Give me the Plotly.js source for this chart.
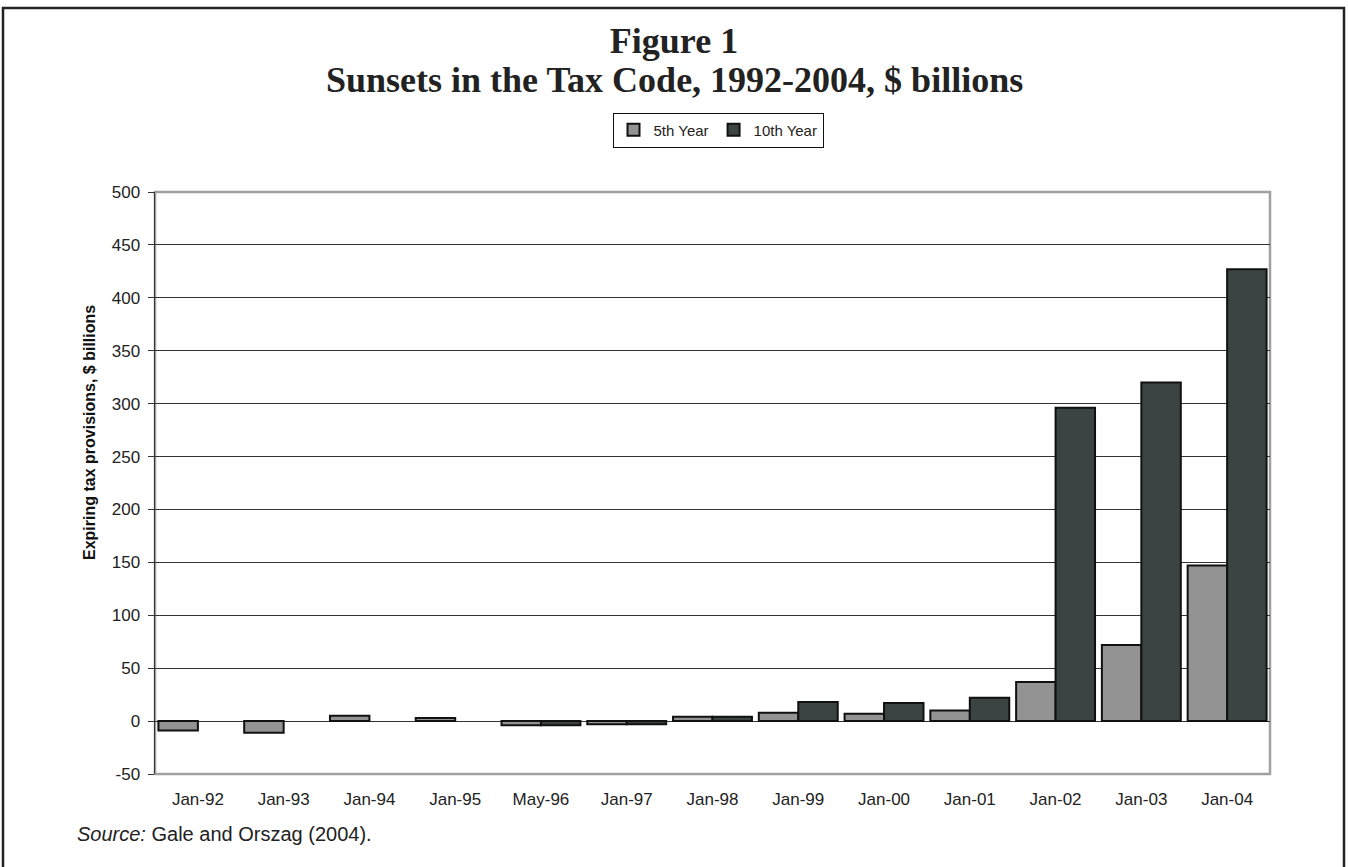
<!DOCTYPE html>
<html>
<head>
<meta charset="utf-8">
<script src="https://cdn.plot.ly/plotly-3.0.1.min.js"></script>
<style>
html,body{margin:0;padding:0;background:#fff;}
#chart{width:1348px;height:867px;}
</style>
</head>
<body>
<div id="chart"></div>
<script>
const categories = ['Jan-92','Jan-93','Jan-94','Jan-95','May-96','Jan-97','Jan-98','Jan-99','Jan-00','Jan-01','Jan-02','Jan-03','Jan-04'];
const fifthYear = [-9, -11, 5, 3, -4, -3, 4, 8, 7, 10, 37, 72, 147];
const tenthYear = [null, null, null, null, -4, -3, 4, 18, 17, 22, 296, 320, 427];
const yTicks = [-50, 0, 50, 100, 150, 200, 250, 300, 350, 400, 450, 500];
const boundaryTicks = [];
for (let i = 0; i <= categories.length; i++) boundaryTicks.push(i - 0.5);

const traces = [
  {type:'bar', name:'5th Year', x:categories, y:fifthYear,
   marker:{color:'#939393', line:{color:'#111', width:2}}},
  {type:'bar', name:'10th Year', x:categories, y:tenthYear,
   marker:{color:'#3b4442', line:{color:'#111', width:2}}}
];

const L = 155, R = 1270, T = 192, B = 774;
const px2x = p => (p - L) / (R - L);
const px2y = p => (B - p) / (B - T);

const layout = {
  width:1348, height:867,
  margin:{l:L, r:1348 - R, t:T, b:867 - B},
  paper_bgcolor:'#fff', plot_bgcolor:'#fff',
  barmode:'group', bargap:0.08, bargroupgap:0,
  font:{family:'Liberation Sans, Arial, sans-serif', size:17, color:'#222'},
  title:{text:'Figure 1',
    font:{family:'Liberation Serif, Times New Roman, serif', size:36, color:'#222', weight:'bold'},
    x:0.5, xref:'container', y:1 - 40/867, yref:'container', yanchor:'middle'},
  showlegend:true,
  legend:{orientation:'h', x:px2x(718), xanchor:'center', y:px2y(130), yanchor:'middle',
    bordercolor:'#111', borderwidth:1, bgcolor:'#fff',
    font:{family:'Liberation Sans, Arial, sans-serif', size:15, color:'#222'},
    itemwidth:30, traceorder:'normal'},
  xaxis:{type:'category', categoryorder:'array', categoryarray:categories,
    range:[-0.5, categories.length - 0.5],
    showgrid:false, showline:false, zeroline:false,
    ticks:'outside', ticklen:10, tickcolor:'rgba(0,0,0,0)',
    tickfont:{size:17, color:'#222'}, fixedrange:true},
  xaxis2:{type:'linear', overlaying:'x', anchor:'free', position:50/550,
    range:[-0.5, categories.length - 0.5], tickvals:boundaryTicks,
    showticklabels:false, ticks:'outside', ticklen:5, tickcolor:'#222', tickwidth:1,
    showline:true, linecolor:'#222', linewidth:1, showgrid:false, zeroline:false},
  yaxis:{range:[-50, 500], tickvals:yTicks, ticktext:yTicks.map(String),
    showgrid:true, gridcolor:'#333', gridwidth:1,
    zeroline:false, showline:true, linecolor:'#333', linewidth:1.5,
    ticks:'outside', ticklen:6, tickcolor:'#333', ticklabelstandoff:4,
    tickfont:{size:17, color:'#222'}},
  shapes:[
    {type:'rect', xref:'paper', yref:'paper', x0:0, x1:1, y0:0, y1:1,
     line:{color:'#a0a0a0', width:2.5}, layer:'below'},
    {type:'rect', xref:'paper', yref:'paper', x0:px2x(3), x1:px2x(1344), y0:px2y(880), y1:px2y(8),
     line:{color:'#222', width:2.5}, fillcolor:'rgba(0,0,0,0)'}
  ],
  annotations:[
    {text:'Sunsets in the Tax Code, 1992-2004, $ billions', xref:'paper', yref:'paper',
     x:px2x(674), y:px2y(80), xanchor:'center', yanchor:'middle', showarrow:false,
     font:{family:'Liberation Serif, Times New Roman, serif', size:36, color:'#222', weight:'bold'}},
    {text:'Expiring tax provisions, $ billions', xref:'paper', yref:'paper',
     x:px2x(89), y:px2y(433), xanchor:'center', yanchor:'middle', textangle:-90, showarrow:false,
     font:{family:'Liberation Sans, Arial, sans-serif', size:16, color:'#111', weight:'bold'}},
    {text:'<i>Source:</i> Gale and Orszag (2004).', xref:'paper', yref:'paper',
     x:px2x(75), y:px2y(834), xanchor:'left', yanchor:'middle', showarrow:false,
     font:{family:'Liberation Sans, Arial, sans-serif', size:20, color:'#222'}}
  ]
};

Plotly.newPlot('chart', traces, layout, {displayModeBar:false, staticPlot:true});
</script>
</body>
</html>
